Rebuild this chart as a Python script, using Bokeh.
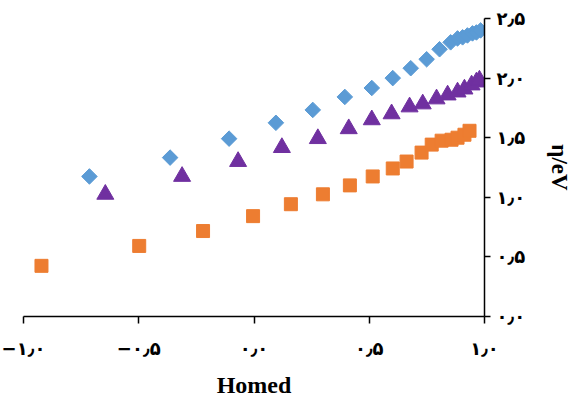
import numpy as np
from bokeh.plotting import figure
from bokeh.models import FixedTicker, Range1d
from bokeh.embed import file_html
from bokeh.resources import INLINE

# Data
blue_x = [-0.714, -0.364, -0.108, 0.095, 0.255, 0.394, 0.511, 0.602, 0.680, 0.749,
          0.805, 0.853, 0.883, 0.905, 0.926, 0.948, 0.965, 0.983]
blue_y = [1.175, 1.333, 1.492, 1.625, 1.733, 1.842, 1.917, 2.000, 2.083, 2.158,
          2.242, 2.300, 2.333, 2.342, 2.358, 2.375, 2.383, 2.400]

purple_x = [-0.645, -0.312, -0.069, 0.121, 0.277, 0.411, 0.511, 0.597, 0.675, 0.732,
            0.792, 0.840, 0.883, 0.913, 0.944, 0.965, 0.978]
purple_y = [1.025, 1.175, 1.300, 1.417, 1.492, 1.575, 1.650, 1.700, 1.758, 1.783,
            1.825, 1.858, 1.883, 1.908, 1.942, 1.967, 1.983]

orange_x = [-0.922, -0.498, -0.221, -0.004, 0.160, 0.299, 0.416, 0.515, 0.602, 0.662,
            0.727, 0.771, 0.814, 0.857, 0.883, 0.913, 0.935]
orange_y = [0.425, 0.592, 0.717, 0.842, 0.942, 1.025, 1.100, 1.175, 1.242, 1.300,
            1.375, 1.442, 1.475, 1.483, 1.500, 1.525, 1.558]

x_ticks = [-1.0, -0.5, 0.0, 0.5, 1.0]
x_tick_labels = ["\u2212\u06F1\u066B\u06F0", "\u2212\u06F0\u066B\u06F5", "\u06F0\u066B\u06F0",
                 "\u06F0\u066B\u06F5", "\u06F1\u066B\u06F0"]
y_ticks = [0.0, 0.5, 1.0, 1.5, 2.0, 2.5]
y_tick_labels = ["\u06F0\u066B\u06F0", "\u06F0\u066B\u06F5", "\u06F1\u066B\u06F0",
                 "\u06F1\u066B\u06F5", "\u06F2\u066B\u06F0", "\u06F2\u066B\u06F5"]

p = figure(width=575, height=400, output_backend="svg", toolbar_location=None,
           x_range=Range1d(-1, 1), y_range=Range1d(0, 2.5),
           x_axis_location="below", y_axis_location="right",
           min_border_left=23, min_border_top=18, min_border_right=90, min_border_bottom=82)
p.outline_line_color = None
p.grid.visible = False

p.scatter(orange_x, orange_y, marker="square", size=13, color="#ED7D31")
p.scatter(purple_x, purple_y, marker="triangle", size=17, color="#7030A0")
p.scatter(blue_x, blue_y, marker="square", angle=np.pi / 4, size=11, color="#5B9BD5")

xa = p.xaxis[0]
xa.ticker = FixedTicker(ticks=x_ticks)
xa.major_label_overrides = {t: l for t, l in zip(x_ticks, x_tick_labels)}
xa.minor_tick_line_color = None
xa.major_tick_in = 0
xa.major_tick_out = 7
xa.axis_line_width = 1.5
xa.major_tick_line_width = 1.5
xa.major_label_standoff = 14
xa.major_label_text_font = "DejaVu Sans"
xa.major_label_text_font_style = "bold"
xa.major_label_text_font_size = "18px"
xa.major_label_text_color = "black"
xa.axis_label = "Homed"
xa.axis_label_text_font = "Liberation Serif"
xa.axis_label_text_font_style = "bold"
xa.axis_label_text_font_size = "24px"
xa.axis_label_text_color = "black"
xa.axis_label_standoff = 10

ya = p.yaxis[0]
ya.ticker = FixedTicker(ticks=y_ticks)
ya.major_label_overrides = {t: l for t, l in zip(y_ticks, y_tick_labels)}
ya.minor_tick_line_color = None
ya.major_tick_in = 0
ya.major_tick_out = 6
ya.axis_line_width = 1.5
ya.major_tick_line_width = 1.5
ya.major_label_standoff = 6
ya.major_label_text_font = "DejaVu Sans"
ya.major_label_text_font_style = "bold"
ya.major_label_text_font_size = "18px"
ya.major_label_text_color = "black"
ya.axis_label = "\u03B7/eV"
ya.axis_label_text_font = "Liberation Serif"
ya.axis_label_text_font_style = "bold"
ya.axis_label_text_font_size = "23px"
ya.axis_label_text_color = "black"
ya.axis_label_standoff = 19

open("out.html", "w").write(file_html(p, INLINE))
